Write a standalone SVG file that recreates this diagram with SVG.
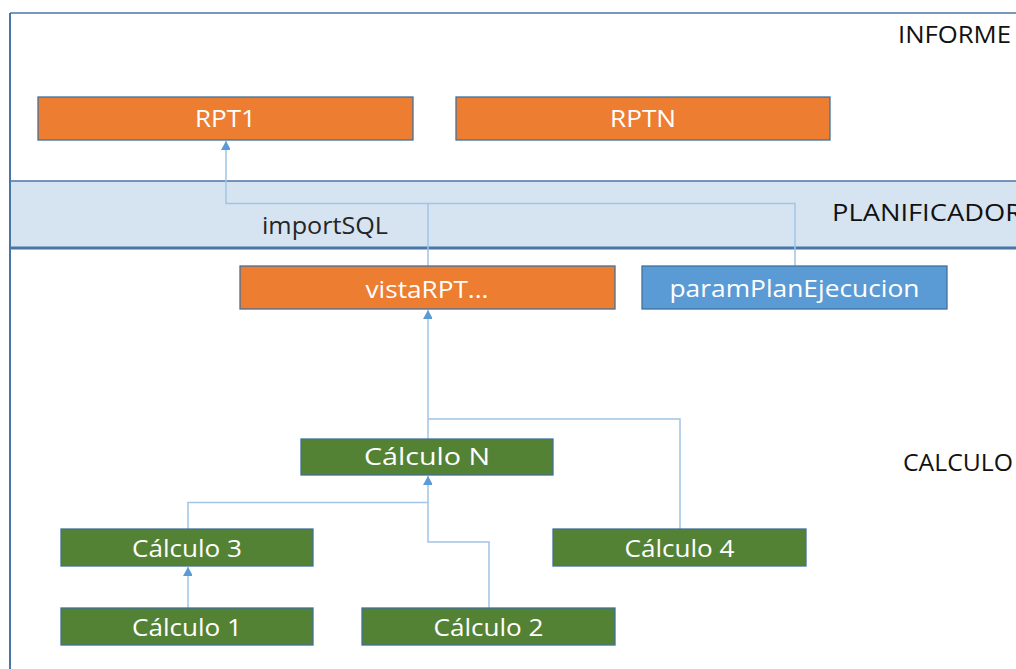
<svg xmlns="http://www.w3.org/2000/svg" width="1016" height="669" viewBox="0 0 1016 669">
  <defs>
    <marker id="arrow" markerUnits="userSpaceOnUse" markerWidth="11" markerHeight="9" refX="9" refY="5" orient="auto">
      <path d="M0,0 L9,5 L0,10 Z" fill="#5B9BD5"/>
    </marker>
    <style>
      .frame { fill: none; stroke: #4A76A6; stroke-width: 1.6; }
      .band { fill: #D6E4F2; }
      .node rect { stroke: #41719C; stroke-width: 1.3; }
      .orange rect { fill: #ED7D31; }
      .green rect { fill: #548235; }
      .blue rect { fill: #5B9BD5; }
      .node text { fill: #FFFFFF; font-family: "Open Sans", "Liberation Sans", sans-serif; font-size: 23px; text-anchor: middle; }
      .zone { fill: #111111; font-family: "Open Sans", "Liberation Sans", sans-serif; font-size: 23px; }
      .link { fill: none; stroke: #A2C4E6; stroke-width: 1.5; }
    </style>
  </defs>

  <rect width="1016" height="669" fill="#FFFFFF"/>

  <!-- swimlane frame -->
  <g id="lanes">
    <rect class="band" x="10" y="181" width="1010" height="67"/>
    <line class="frame" x1="10" y1="181" x2="1016" y2="181" stroke-width="1.3"/>
    <line class="frame" x1="10" y1="248" x2="1016" y2="248" style="stroke-width:3"/>
    <line class="frame" x1="10" y1="13" x2="1016" y2="13"/>
    <line class="frame" x1="10" y1="13" x2="10" y2="669" style="stroke-width:2"/>
    <text class="zone" x="898" y="43" textLength="113" lengthAdjust="spacingAndGlyphs">INFORME</text>
    <text class="zone" x="832" y="221" textLength="190" lengthAdjust="spacingAndGlyphs">PLANIFICADOR</text>
    <text class="zone" x="903" y="471" textLength="110" lengthAdjust="spacingAndGlyphs">CALCULO</text>
    <text class="zone" x="262" y="234" textLength="126" lengthAdjust="spacingAndGlyphs" style="fill:#262626">importSQL</text>
  </g>

  <!-- connectors -->
  <g id="connectors">
    <path class="link" d="M428,266 V203.5 H226 V141" marker-end="url(#arrow)"/>
    <path class="link" d="M795,266 V203.5 H428"/>
    <path class="link" d="M428,439 V310" marker-end="url(#arrow)"/>
    <path class="link" d="M680,529 V419 H428"/>
    <path class="link" d="M188,529 V502.5 H428 V476" marker-end="url(#arrow)"/>
    <path class="link" d="M489,608 V542 H428 V502.5"/>
    <path class="link" d="M188,608 V567" marker-end="url(#arrow)"/>
  </g>

  <!-- nodes -->
  <g id="rpt1" class="node orange">
    <rect x="38" y="97" width="375" height="43"/>
    <text x="225.5" y="127" textLength="61" lengthAdjust="spacingAndGlyphs">RPT1</text>
  </g>
  <g id="rptn" class="node orange">
    <rect x="456" y="97" width="374" height="43"/>
    <text x="643" y="127" textLength="66" lengthAdjust="spacingAndGlyphs">RPTN</text>
  </g>
  <g id="vistaRPT" class="node orange">
    <rect x="240" y="266" width="375" height="43"/>
    <text x="427" y="298" textLength="123" lengthAdjust="spacingAndGlyphs">vistaRPT...</text>
  </g>
  <g id="paramPlanEjecucion" class="node blue">
    <rect x="642" y="266" width="305" height="43"/>
    <text x="794.5" y="297" textLength="250" lengthAdjust="spacingAndGlyphs">paramPlanEjecucion</text>
  </g>
  <g id="calculoN" class="node green">
    <rect x="301" y="439" width="252" height="36"/>
    <text x="427" y="465" textLength="126" lengthAdjust="spacingAndGlyphs">Cálculo N</text>
  </g>
  <g id="calculo3" class="node green">
    <rect x="61" y="529" width="252" height="37"/>
    <text x="187" y="557" textLength="110" lengthAdjust="spacingAndGlyphs">Cálculo 3</text>
  </g>
  <g id="calculo4" class="node green">
    <rect x="553" y="529" width="253" height="37"/>
    <text x="679.5" y="557" textLength="110" lengthAdjust="spacingAndGlyphs">Cálculo 4</text>
  </g>
  <g id="calculo1" class="node green">
    <rect x="61" y="608" width="252" height="37"/>
    <text x="187" y="636" textLength="110" lengthAdjust="spacingAndGlyphs">Cálculo 1</text>
  </g>
  <g id="calculo2" class="node green">
    <rect x="362" y="608" width="253" height="37"/>
    <text x="488.5" y="636" textLength="110" lengthAdjust="spacingAndGlyphs">Cálculo 2</text>
  </g>
</svg>
